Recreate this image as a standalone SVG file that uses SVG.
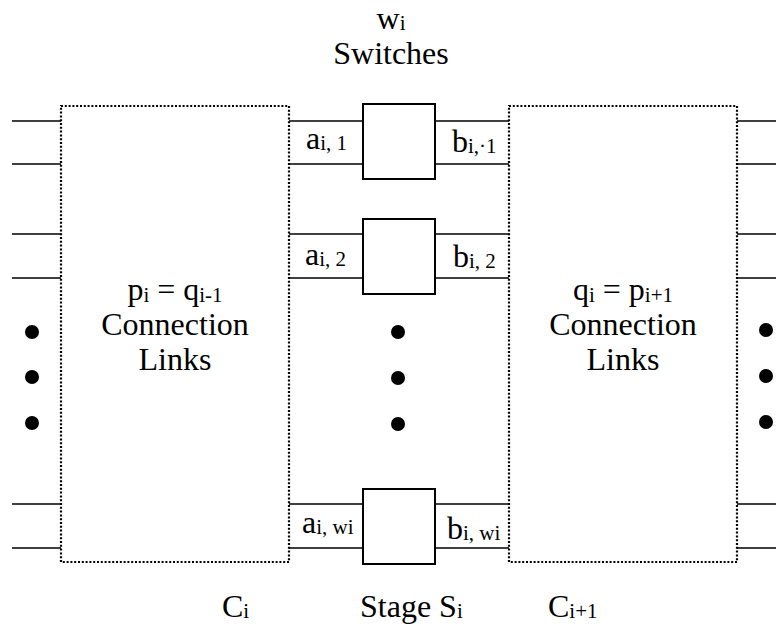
<svg xmlns="http://www.w3.org/2000/svg" width="776" height="634" viewBox="0 0 776 634">
<style>
text{font-family:"Liberation Serif","Times New Roman",Tinos,"DejaVu Serif",serif;font-size:32px;fill:#000}
.s{font-size:21px}
.ln{stroke:#000;stroke-width:1.6;fill:none}
.dot{fill:none;stroke:#000;stroke-width:2.2;stroke-dasharray:2 1.8}
.sw{fill:#fff;stroke:#000;stroke-width:2}
</style>
<rect width="776" height="634" fill="#fff"/>
<g id="connectors">
<path class="ln" d="M12 121H61M12 164H61M12 234H61M12 278H61M12 504H61M12 548H61"/>
<path class="ln" d="M737 121H776M737 164H776M737 234H776M737 278H776M737 504H776M737 548H776"/>
<path class="ln" d="M289 121H363M289 164H363M289 234H363M289 278H363M289 504H363M289 548H363"/>
<path class="ln" d="M435 121H509M435 164H509M435 234H509M435 278H509M435 504H509M435 548H509"/>
</g>
<g id="Ci">
<rect class="dot" x="61" y="106" width="228" height="456"/>
<text x="175" y="300" text-anchor="middle">p<tspan class="s" dy="2">i</tspan><tspan dy="-2"> = q</tspan><tspan class="s" dy="2">i-1</tspan></text>
<text x="175" y="335" text-anchor="middle">Connection</text>
<text x="175" y="370" text-anchor="middle">Links</text>
</g>
<g id="Ci1">
<rect class="dot" x="509" y="106" width="228" height="456"/>
<text x="623" y="300" text-anchor="middle">q<tspan class="s" dy="2">i</tspan><tspan dy="-2"> = p</tspan><tspan class="s" dy="2">i+1</tspan></text>
<text x="623" y="335" text-anchor="middle">Connection</text>
<text x="623" y="370" text-anchor="middle">Links</text>
</g>
<g id="switch1">
<rect class="sw" x="363" y="104" width="72" height="75"/>
</g>
<g id="switch2">
<rect class="sw" x="363" y="219" width="72" height="75"/>
</g>
<g id="switch3">
<rect class="sw" x="363" y="489" width="72" height="75"/>
</g>
<g id="labels">
<text x="306" y="149">a<tspan class="s" dy="1">i, 1</tspan></text>
<text x="452" y="152">b<tspan class="s" dy="1">i,·1</tspan></text>
<text x="305" y="265">a<tspan class="s" dy="1">i, 2</tspan></text>
<text x="453" y="267">b<tspan class="s" dy="1">i, 2</tspan></text>
<text x="302" y="533">a<tspan class="s" dy="1">i, wi</tspan></text>
<text x="447" y="539">b<tspan class="s" dy="1">i, wi</tspan></text>
<text x="391" y="29" text-anchor="middle">w<tspan class="s" dy="1">i</tspan></text>
<text x="391" y="64" text-anchor="middle">Switches</text>
<text x="222" y="617">C<tspan class="s" dy="1">i</tspan></text>
<text x="360" y="617">Stage S<tspan class="s" dy="1">i</tspan></text>
<text x="548" y="617">C<tspan class="s" dy="1">i+1</tspan></text>
</g>
<g id="dots" fill="#000">
<circle cx="32" cy="332" r="7"/><circle cx="32" cy="377" r="7"/><circle cx="32" cy="423" r="7"/>
<circle cx="398" cy="332" r="7"/><circle cx="398" cy="378" r="7"/><circle cx="398" cy="424" r="7"/>
<circle cx="766" cy="330" r="7"/><circle cx="766" cy="376" r="7"/><circle cx="766" cy="422" r="7"/>
</g>
</svg>
